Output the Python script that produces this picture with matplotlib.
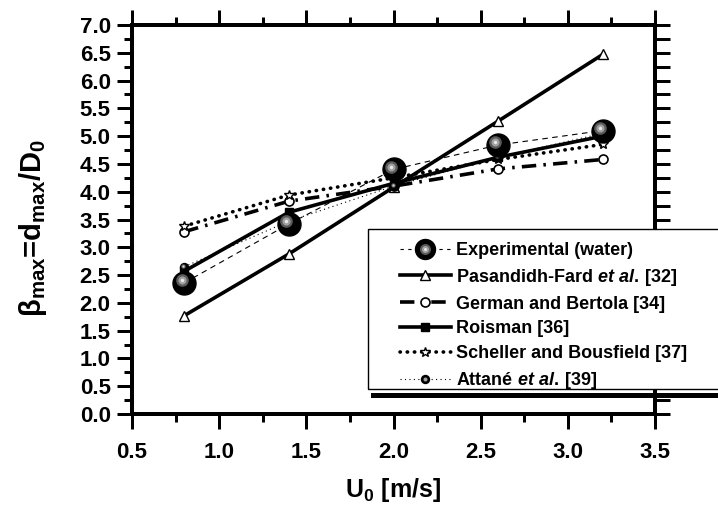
import matplotlib
matplotlib.use('Agg')
import matplotlib.pyplot as plt
import numpy as np
from matplotlib.lines import Line2D
from matplotlib.patches import Rectangle
from matplotlib.transforms import offset_copy
from matplotlib.legend_handler import HandlerTuple

plt.rcParams['font.family'] = ['Liberation Sans', 'DejaVu Sans']
plt.rcParams['font.weight'] = 'bold'
plt.rcParams['mathtext.fontset'] = 'custom'
plt.rcParams['mathtext.rm'] = 'Liberation Sans:bold'
plt.rcParams['mathtext.bf'] = 'Liberation Sans:bold'
plt.rcParams['mathtext.it'] = 'Liberation Sans:italic:bold'

# data
u0 = [0.8, 1.4, 2.0, 2.6, 3.2]
exp_water = [2.36, 3.42, 4.40, 4.84, 5.10]
pasandideh = [1.77, 2.88, 4.08, 5.27, 6.47]
german = [3.28, 3.83, 4.10, 4.41, 4.58]
roisman = [2.57, 3.63, 4.15, 4.62, 5.00]
scheller = [3.38, 3.94, 4.25, 4.58, 4.85]
attane = [2.65, 3.47, 4.10, 4.62, 5.05]

labels = ['Experimental (water)',
          r'Pasandidh-Fard $\mathit{et\ al.}\,$[32]',
          'German and Bertola [34]',
          'Roisman [36]',
          'Scheller and Bousfield [37]',
          r'Attané $\mathit{et\ al.}\,$[39]']

W, H = 718, 512
fig = plt.figure(figsize=(W / 100, H / 100), dpi=100)
ax = fig.add_axes([132 / W, 1 - 414 / H, 523 / W, 389 / H])

px = 0.72  # points per pixel


def spheres(x, y, size, z):
    # shaded ball look: black body + offset gray highlight
    ax.plot(x, y, ls='none', marker='o', ms=size * px, mfc='black', mec='black', zorder=z)
    off = offset_copy(ax.transData, fig=fig, x=-size * 0.12, y=size * 0.12, units='dots')
    ax.plot(x, y, ls='none', marker='o', ms=size * 0.55 * px, mfc='#5a5a5a', mec='none',
            transform=off, zorder=z + 0.1)
    ax.plot(x, y, ls='none', marker='o', ms=size * 0.35 * px, mfc='#a0a0a0', mec='none',
            transform=off, zorder=z + 0.2)
    ax.plot(x, y, ls='none', marker='o', ms=size * 0.15 * px, mfc='#e8e8e8', mec='none',
            transform=off, zorder=z + 0.3)


lw_thick = 3.6 * px
dashdot = (0, (4.0, 2.0, 0.7, 2.0))
dots = (0, (0.1, 1.9))
# Pasandideh-Fard
ax.plot(u0, pasandideh, color='black', lw=lw_thick, marker='^', ms=8 * px * 1.3,
        mfc='white', mec='black', mew=1, zorder=3)
# German and Bertola
ax.plot(u0, german, color='black', lw=lw_thick, ls=dashdot,
        marker='o', ms=9 * px, mfc='white', mec='black', mew=1.2, zorder=3)
# Roisman
ax.plot(u0, roisman, color='black', lw=lw_thick, marker='s', ms=8 * px,
        mfc='black', mec='black', zorder=3)
# Scheller and Bousfield
ax.plot(u0, scheller, color='black', lw=lw_thick, ls=dots, dash_capstyle='round',
        marker='*', ms=10 * px, mfc='white', mec='black', mew=1, zorder=3)
# Attane
ax.plot(u0, attane, color='black', lw=0.8, ls=(0, (1, 3)), zorder=3)
spheres(u0, attane, 8, 4)
# experimental
ax.plot(u0, exp_water, color='black', lw=0.8, ls=(0, (5, 4)), zorder=4)
spheres(u0, exp_water, 23, 5)

ax.set_xlim(0.5, 3.5)
ax.set_ylim(0, 7)
ax.set_xticks(np.arange(0.5, 3.51, 0.5))
ax.set_xticks(np.arange(0.75, 3.5, 0.5), minor=True)
ax.set_yticks(np.arange(0, 7.01, 0.5))
ax.set_yticks(np.arange(0.25, 7, 0.5), minor=True)
ax.xaxis.set_major_formatter(matplotlib.ticker.FormatStrFormatter('%.1f'))
ax.yaxis.set_major_formatter(matplotlib.ticker.FormatStrFormatter('%.1f'))

for s in ax.spines.values():
    s.set_linewidth(4 * px)
ax.tick_params(which='both', direction='out', width=3 * px, top=True, bottom=True,
               left=True, right=False, labelsize=16)
ax.tick_params(which='major', length=15 * px)
ax.tick_params(which='minor', length=8 * px)
ax.tick_params(axis='x', which='major', pad=9)
ax.tick_params(axis='y', which='major', pad=4.5)

sec = ax.secondary_yaxis('right')
sec.set_yticks(np.arange(0, 7.01, 0.25))
sec.tick_params(direction='out', length=15 * px, width=3 * px, labelright=False)
sec.spines['right'].set_linewidth(4 * px)

fig.text(393 / W, 1 - 490 / H, r'U$_0$ [m/s]', ha='center', va='center', fontsize=18,
         fontweight='bold')
fig.text(33 / W, 1 - 228 / H, r'β$_{\mathrm{max}}$=d$_{\mathrm{max}}$/D$_0$', ha='center',
         va='center', rotation=90, fontsize=21, fontweight='bold')

# legend box with shadow bar
box = Rectangle((368 / W, 1 - 389 / H), 400 / W, 160 / H, transform=fig.transFigure,
                facecolor='white', edgecolor='black', lw=1, zorder=2)
fig.add_artist(box)
fig.add_artist(Line2D([373 / W, 1.05], [1 - 394.5 / H] * 2, transform=fig.transFigure,
                      color='black', lw=5 * px, zorder=2))

h_exp = (Line2D([], [], color='black', lw=0.8, ls=(0, (3, 4)), marker='o', ms=20 * px,
                mfc='black', mec='black'),
         Line2D([], [], ls='none', marker='o', ms=11 * px, mfc='#5a5a5a', mec='none'),
         Line2D([], [], ls='none', marker='o', ms=7 * px, mfc='#a0a0a0', mec='none'),
         Line2D([], [], ls='none', marker='o', ms=3 * px, mfc='#e8e8e8', mec='none'))
h_pas = Line2D([], [], color='black', lw=lw_thick, marker='^', ms=8 * px * 1.3, mfc='white',
               mec='black', mew=1)
h_ger = Line2D([], [], color='black', lw=lw_thick, ls=dashdot, marker='o',
               ms=9 * px, mfc='white', mec='black', mew=1.2)
h_roi = Line2D([], [], color='black', lw=lw_thick, marker='s', ms=8 * px, mfc='black',
               mec='black')
h_sch = Line2D([], [], color='black', lw=lw_thick, ls=dots, dash_capstyle='round',
               marker='*', ms=10 * px, mfc='white', mec='black', mew=1)
h_att = (Line2D([], [], color='black', lw=0.8, ls=(0, (1, 3)), marker='o', ms=8 * px,
                mfc='black', mec='black'),
         Line2D([], [], ls='none', marker='o', ms=4 * px, mfc='#a0a0a0', mec='none'))

leg = fig.legend([h_exp, h_pas, h_ger, h_roi, h_sch, h_att], labels,
                 handler_map={tuple: HandlerTuple(ndivide=1, pad=0)},
                 loc='upper left', bbox_to_anchor=(400 / W, 1 - 242 / H), frameon=False,
                 borderpad=0, borderaxespad=0, handlelength=2.8, handletextpad=0.3,
                 labelspacing=0.43, prop={'size': 13, 'weight': 'bold'})
leg.set_zorder(3)

fig.savefig('out.png', dpi=100)
